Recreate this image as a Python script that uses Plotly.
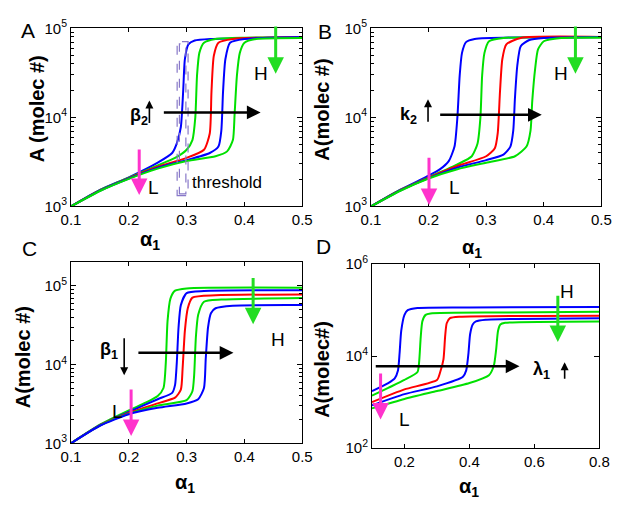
import numpy as np
import plotly.graph_objects as go

# ---------------- data ----------------
# Panel A  (beta2 varied)
a1_x = [0.1, 0.15, 0.2, 0.25, 0.275, 0.283, 0.29, 0.294, 0.297, 0.303, 0.314, 0.342, 0.5]
a1_y = [1000, 1530, 2120, 3100, 3980, 5100, 7800, 19500, 45000, 66000, 73000, 76000, 79500]
a2_x = [0.1, 0.15, 0.2, 0.25, 0.28, 0.3, 0.31, 0.315, 0.318, 0.322, 0.33, 0.35, 0.4, 0.5]
a2_y = [1000, 1520, 2100, 2890, 3500, 4330, 5560, 10000, 29600, 53000, 69000, 76000, 78500, 79000]
a3_x = [0.1, 0.15, 0.2, 0.25, 0.3, 0.33, 0.34, 0.343, 0.347, 0.355, 0.38, 0.5]
a3_y = [1000, 1510, 2080, 2800, 3510, 4330, 6600, 19500, 49000, 69000, 76000, 80000]
a4_x = [0.1, 0.15, 0.2, 0.25, 0.3, 0.34, 0.355, 0.36, 0.363, 0.367, 0.375, 0.4, 0.5]
a4_y = [1000, 1500, 2060, 2730, 3310, 3980, 4700, 7100, 19500, 45000, 69000, 76000, 80000]
a5_x = [0.1, 0.15, 0.2, 0.25, 0.3, 0.35, 0.37, 0.38, 0.383, 0.387, 0.392, 0.4, 0.42, 0.5]
a5_y = [1000, 1490, 2040, 2660, 3230, 3660, 4150, 5560, 11000, 29600, 53000, 69000, 76000, 78000]

# Panel B  (k2 varied)
b1_x = [0.1, 0.15, 0.2, 0.22, 0.235, 0.245, 0.25, 0.254, 0.258, 0.265, 0.28, 0.5]
b1_y = [1000, 1530, 2210, 2620, 3230, 4700, 10000, 29600, 53000, 70000, 76000, 80000]
b2_x = [0.1, 0.15, 0.2, 0.25, 0.275, 0.285, 0.29, 0.293, 0.297, 0.305, 0.33, 0.5]
b2_y = [1000, 1520, 2120, 2960, 3660, 5100, 10000, 29600, 53000, 71600, 78000, 79000]
b3_x = [0.1, 0.15, 0.2, 0.25, 0.3, 0.315, 0.32, 0.324, 0.328, 0.335, 0.36, 0.5]
b3_y = [1000, 1510, 2100, 2840, 3660, 4500, 6600, 19500, 45000, 66000, 78000, 80000]
b4_x = [0.1, 0.15, 0.2, 0.25, 0.3, 0.33, 0.342, 0.347, 0.35, 0.354, 0.36, 0.375, 0.4, 0.5]
b4_y = [1000, 1500, 2080, 2730, 3310, 3820, 4700, 7100, 16600, 38000, 63000, 74000, 78000, 80000]
b5_x = [0.1, 0.15, 0.2, 0.25, 0.3, 0.35, 0.37, 0.377, 0.38, 0.385, 0.39, 0.4, 0.43, 0.5]
b5_y = [1000, 1490, 2060, 2620, 3100, 3660, 4700, 7100, 15200, 35000, 58000, 71600, 78000, 79000]

# Panel C  (beta1 varied)
c1_x = [0.1, 0.15, 0.2, 0.23, 0.25, 0.26, 0.264, 0.267, 0.272, 0.28, 0.3, 0.5]
c1_y = [1000, 1720, 2620, 3300, 3980, 5040, 10600, 35700, 69000, 87000, 93000, 95000]
c2_x = [0.1, 0.15, 0.2, 0.25, 0.275, 0.28, 0.283, 0.286, 0.29, 0.3, 0.33, 0.5]
c2_y = [1000, 1700, 2500, 3630, 4370, 5520, 10600, 29600, 57000, 81000, 86000, 88000]
c3_x = [0.1, 0.15, 0.2, 0.25, 0.28, 0.29, 0.293, 0.297, 0.302, 0.31, 0.35, 0.5]
c3_y = [1000, 1690, 2430, 3210, 3800, 4800, 8800, 27000, 52000, 71000, 76000, 78000]
c4_x = [0.1, 0.15, 0.2, 0.25, 0.3, 0.31, 0.313, 0.316, 0.32, 0.33, 0.36, 0.5]
c4_y = [1000, 1680, 2380, 3010, 3530, 4580, 7300, 22400, 43000, 63000, 67000, 70000]
c5_x = [0.1, 0.15, 0.2, 0.25, 0.3, 0.32, 0.33, 0.333, 0.337, 0.342, 0.35, 0.38, 0.5]
c5_y = [1000, 1670, 2340, 2820, 3210, 3630, 5040, 11700, 29600, 45000, 52000, 56000, 57000]

# Panel D  (lambda1 varied)
d1_x = [0.1, 0.15, 0.17, 0.18, 0.185, 0.19, 0.2, 0.21, 0.24, 0.4, 0.8]
d1_y = [1740, 2600, 3300, 4900, 11700, 35600, 79000, 100000, 112000, 115000, 117000]
d2_x = [0.1, 0.15, 0.2, 0.24, 0.245, 0.25, 0.255, 0.265, 0.28, 0.5, 0.8]
d2_y = [1380, 2040, 3030, 4520, 7300, 26000, 57000, 79000, 85000, 89000, 92000]
d3_x = [0.1, 0.2, 0.3, 0.31, 0.32, 0.325, 0.33, 0.34, 0.37, 0.8]
d3_y = [1000, 1890, 3030, 4520, 8500, 26000, 52000, 67000, 72000, 76000]
d4_x = [0.1, 0.2, 0.3, 0.38, 0.39, 0.397, 0.402, 0.41, 0.42, 0.45, 0.8]
d4_y = [850, 1490, 2200, 3560, 4900, 11700, 30000, 49000, 57000, 62000, 67000]
d5_x = [0.1, 0.2, 0.3, 0.4, 0.46, 0.475, 0.482, 0.488, 0.495, 0.51, 0.8]
d5_y = [730, 1170, 1740, 2600, 3860, 6200, 13700, 35600, 49000, 53000, 57000]

# axis ticks
x_ticks_abc = [0.1, 0.2, 0.3, 0.4, 0.5]
x_ticks_d = [0.2, 0.4, 0.6, 0.8]
y_ticks_abc = [1e3, 1e4, 1e5]
y_text_abc = ["10<sup>3</sup>", "10<sup>4</sup>", "10<sup>5</sup>"]
y_ticks_d = [1e2, 1e4, 1e6]
y_text_d = ["10<sup>2</sup>", "10<sup>4</sup>", "10<sup>6</sup>"]

# annotation arrows per panel: black (x_tail, x_head, y), pink (x, y_tail, y_head), green (x, y_tail, y_head)
black_arrows = [(0.258, 0.428, 11350), (0.2175, 0.3965, 10700), (0.214, 0.381, 14100), (0.107, 0.554, 6000)]
pink_arrows = [(0.218, 4520, 1340), (0.2007, 3660, 1040), (0.204, 5040, 1240), (0.1265, 4520, 417)]
green_arrows = [(0.454, 108700, 30900), (0.455, 108700, 30900), (0.415, 132000, 32500), (0.672, 221000, 20400)]
h_labels = [(0.428, 31000), (0.43, 31000), (0.458, 20800), (0.70, 257000)]
l_labels = [(0.242, 1650), (0.2455, 1650), (0.181, 2500), (0.2, 417)]
param_labels = ["β<sub>2</sub>", "k<sub>2</sub>", "β<sub>1</sub>", "λ<sub>1</sub>"]
param_pos = [(0.217, 10100), (0.1655, 10500), (0.165, 15300), (0.621, 4900)]
# small arrows next to parameter names: (x, y_tail, y_head)
param_arrows = [(0.2356, 8300, 15500), (0.199, 8600, 16000), (0.192, 22500, 7300), (0.693, 3000, 7400)]
threshold_outer = ([0.2836, 0.3025], [1325, 71000])
threshold_inner = ([0.2875, 0.2987], [1380, 67000])

# ---------------- figure ----------------
BLUE = "#0000ff"
GREEN = "#00e000"
RED = "#ff0000"
PINK = "#ff33cc"
ARROWGREEN = "#22dd22"
FONT = "Arial, 'Liberation Sans', sans-serif"
colors_abd = [BLUE, GREEN, RED, BLUE, GREEN]
colors_c = [GREEN, BLUE, RED, GREEN, BLUE]

panels = [
    ("x", "y", [(a1_x, a1_y), (a2_x, a2_y), (a3_x, a3_y), (a4_x, a4_y), (a5_x, a5_y)], colors_abd),
    ("x2", "y2", [(b1_x, b1_y), (b2_x, b2_y), (b3_x, b3_y), (b4_x, b4_y), (b5_x, b5_y)], colors_abd),
    ("x3", "y3", [(c1_x, c1_y), (c2_x, c2_y), (c3_x, c3_y), (c4_x, c4_y), (c5_x, c5_y)], colors_c),
    ("x4", "y4", [(d1_x, d1_y), (d2_x, d2_y), (d3_x, d3_y), (d4_x, d4_y), (d5_x, d5_y)], colors_abd),
]

fig = go.Figure()
for xa, ya, curves, cols in panels:
    for (cx, cy), col in zip(curves, cols):
        fig.add_trace(go.Scatter(x=cx, y=cy, xaxis=xa, yaxis=ya, mode="lines",
                                 line=dict(color=col, width=2, shape="spline", smoothing=0.6),
                                 showlegend=False, hoverinfo="skip"))

# threshold rectangles (panel A)
for (rx, ry) in (threshold_outer, threshold_inner):
    fig.add_shape(type="rect", xref="x", yref="y", x0=rx[0], x1=rx[1], y0=ry[0], y1=ry[1],
                  line=dict(color="#8878c8", width=1.2, dash="dash"))

minor_abc = [m * 10 ** e for e in (3, 4) for m in range(2, 10)]


def xaxis_cfg(dom, anchor, rng, ticks):
    return dict(domain=dom, anchor=anchor, range=rng, tickvals=ticks,
                ticktext=[f"{t:g}" for t in ticks],
                ticks="inside", ticklen=4, tickcolor="black", showline=True, linecolor="black",
                linewidth=1, mirror="ticks", showgrid=False, zeroline=False,
                tickfont=dict(family=FONT, size=15, color="black"))


def yaxis_cfg(dom, anchor, rng, ticks, text, minor):
    d = dict(domain=dom, anchor=anchor, type="log", range=rng, tickvals=ticks, ticktext=text,
             ticks="inside", ticklen=5, tickcolor="black", showline=True, linecolor="black",
             linewidth=1, mirror="ticks", showgrid=False, zeroline=False,
             tickfont=dict(family=FONT, size=15, color="black"))
    if minor:
        d["minor"] = dict(tickvals=minor, ticks="inside", ticklen=3, tickcolor="black", showgrid=False)
    return d


fig.update_layout(
    width=622, height=510, margin=dict(l=0, r=0, t=0, b=0),
    paper_bgcolor="white", plot_bgcolor="white",
    xaxis=xaxis_cfg([0.1013, 0.4855], "y", [0.1, 0.5], x_ticks_abc),
    yaxis=yaxis_cfg([0.602, 0.9647], "x", [3, 5], y_ticks_abc, y_text_abc, minor_abc),
    xaxis2=xaxis_cfg([0.5997, 0.9823], "y2", [0.1, 0.5], x_ticks_abc),
    yaxis2=yaxis_cfg([0.602, 0.9647], "x2", [3, 5], y_ticks_abc, y_text_abc, minor_abc),
    xaxis3=xaxis_cfg([0.1013, 0.4855], "y3", [0.1, 0.5], x_ticks_abc),
    yaxis3=yaxis_cfg([0.1196, 0.4882], "x3", [3, 5.3], y_ticks_abc, y_text_abc, minor_abc),
    xaxis4=xaxis_cfg([0.6013, 0.9791], "y4", [0.1, 0.8], x_ticks_d),
    yaxis4=yaxis_cfg([0.1098, 0.4843], "x4", [2, 6], y_ticks_d, y_text_d, None),
)

ann = []
axes = [("x", "y"), ("x2", "y2"), ("x3", "y3"), ("x4", "y4")]
for i, (xa, ya) in enumerate(axes):
    bx0, bx1, by = black_arrows[i]
    ann.append(dict(xref=xa, yref=ya, axref=xa, ayref=ya, x=bx1, y=np.log10(by), ax=bx0, ay=np.log10(by),
                    text="", showarrow=True, arrowhead=2, arrowsize=1.1, arrowwidth=2.5, arrowcolor="black"))
    px, py0, py1 = pink_arrows[i]
    ann.append(dict(xref=xa, yref=ya, axref=xa, ayref=ya, x=px, y=np.log10(py1), ax=px, ay=np.log10(py0),
                    text="", showarrow=True, arrowhead=2, arrowsize=1.1, arrowwidth=3, arrowcolor=PINK))
    gx, gy0, gy1 = green_arrows[i]
    ann.append(dict(xref=xa, yref=ya, axref=xa, ayref=ya, x=gx, y=np.log10(gy1), ax=gx, ay=np.log10(gy0),
                    text="", showarrow=True, arrowhead=2, arrowsize=1.1, arrowwidth=3, arrowcolor=ARROWGREEN))
    hx, hy = h_labels[i]
    ann.append(dict(xref=xa, yref=ya, x=hx, y=np.log10(hy), text="H", showarrow=False,
                    xanchor="center", yanchor="middle", font=dict(family=FONT, size=19, color="black")))
    lx, ly = l_labels[i]
    ann.append(dict(xref=xa, yref=ya, x=lx, y=np.log10(ly), text="L", showarrow=False,
                    xanchor="center", yanchor="middle", font=dict(family=FONT, size=19, color="black")))
    tx, ty = param_pos[i]
    ann.append(dict(xref=xa, yref=ya, x=tx, y=np.log10(ty), text="<b>" + param_labels[i] + "</b>",
                    xanchor="center", yanchor="middle",
                    showarrow=False, font=dict(family=FONT, size=18, color="black")))
    sx, sy0, sy1 = param_arrows[i]
    ann.append(dict(xref=xa, yref=ya, axref=xa, ayref=ya, x=sx, y=np.log10(sy1), ax=sx, ay=np.log10(sy0),
                    text="", showarrow=True, arrowhead=2, arrowsize=1.0, arrowwidth=1.6, arrowcolor="black"))

ann.append(dict(xref="x", yref="y", x=0.3055, y=np.log10(1860), xanchor="left", yanchor="middle",
                text="threshold", showarrow=False, font=dict(family=FONT, size=17, color="black")))

# panel letters
for letter, (lx, ly) in zip("ABCD", [(0.0305, 0.961), (0.5225, 0.959), (0.032, 0.516), (0.521, 0.52)]):
    ann.append(dict(xref="paper", yref="paper", x=lx, y=ly, text=letter, showarrow=False,
                    xanchor="center", yanchor="middle", font=dict(family=FONT, size=21, color="black")))

# axis titles
ytitles = ["A (molec #)", "A(molec #)", "A(molec #)", "A(molec#)"]
ytitle_pos = [(0.045, 0.80), (0.519, 0.80), (0.021, 0.294), (0.519, 0.27)]
for t, (tx, ty) in zip(ytitles, ytitle_pos):
    ann.append(dict(xref="paper", yref="paper", x=tx, y=ty, text="<b>" + t + "</b>", textangle=-90,
                    xanchor="center", yanchor="middle",
                    showarrow=False, font=dict(family=FONT, size=20, color="black")))
xtitle_pos = [(0.233, 0.533), (0.768, 0.516), (0.291, 0.037), (0.762, 0.029)]
for tx, ty in xtitle_pos:
    ann.append(dict(xref="paper", yref="paper", x=tx, y=ty, text="<b>α<sub>1</sub></b>",
                    xanchor="center", yanchor="middle",
                    showarrow=False, font=dict(family=FONT, size=20, color="black")))

fig.update_layout(annotations=ann)
fig.write_html("out.html")
